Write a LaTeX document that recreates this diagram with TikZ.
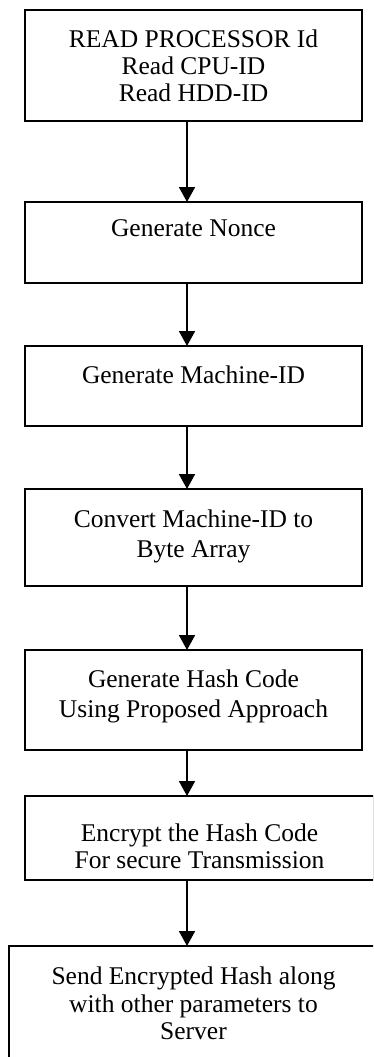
\documentclass[tikz,border=0pt]{standalone}
\usepackage{fontspec}
\setmainfont{Liberation Serif}
\usetikzlibrary{arrows.meta}
\newcommand{\firstline}{\rule{0pt}{18pt}}
\tikzset{
  stepbox/.style={draw, line width=1.6pt, rectangle, inner sep=0pt, outer sep=0pt},
  steptext/.style={anchor=north, inner sep=0pt, align=center,
    font=\fontsize{25.5}{27}\selectfont},
  flow/.style={line width=1.8pt, -{Triangle[length=15pt,width=16pt]}}
}
\begin{document}
\begin{tikzpicture}[x=1pt,y=-1pt]
\useasboundingbox (0,0) rectangle (373,1057);
\clip (0,0) rectangle (373,1057);

% process boxes
\node[stepbox, minimum width=337pt, minimum height=111pt] (b1) at (193.5,65.5) {};
\node[stepbox, minimum width=337pt, minimum height=81pt]  (b2) at (193.5,242.5) {};
\node[stepbox, minimum width=337pt, minimum height=80pt]  (b3) at (193.5,386) {};
\node[stepbox, minimum width=337pt, minimum height=97pt]  (b4) at (193.5,537.5) {};
\node[stepbox, minimum width=337pt, minimum height=100pt] (b5) at (193.5,700) {};
\node[stepbox, minimum width=349pt, minimum height=84pt]  (b6) at (199.5,838) {};
\node[stepbox, minimum width=369pt, minimum height=129pt] (b7) at (193.5,1010.5) {};

% box labels (north anchor sits 18pt above the first baseline)
\node[steptext] (t1) at (193.5,29.5) {\firstline READ PROCESSOR Id\\Read CPU-ID\\Read HDD-ID};
\node[steptext] (t2) at (193.5,218.5) {\firstline Generate Nonce};
\node[steptext] (t3) at (193.5,365) {\firstline Generate Machine-ID};
\node[steptext] (t4) at (193.5,509.5) {\firstline Convert Machine-ID to\\[2.5pt]Byte Array};
\node[steptext] (t5) at (193.5,669) {\firstline Generate Hash Code\\[3.5pt]Using Proposed Approach};
\node[steptext] (t6) at (199.5,823) {\firstline Encrypt the Hash Code\\For secure Transmission};
\node[steptext] (t7) at (193.5,966) {\firstline Send Encrypted Hash along\\[0.8pt]with other parameters to\\Server};

% connectors run down a common axis
\coordinate (ax) at (187,0);
\draw[flow] (b1.south -| ax) -- (b2.north -| ax);
\draw[flow] (b2.south -| ax) -- (b3.north -| ax);
\draw[flow] (b3.south -| ax) -- (b4.north -| ax);
\draw[flow] (b4.south -| ax) -- (b5.north -| ax);
\draw[flow] (b5.south -| ax) -- (b6.north -| ax);
\draw[flow] (b6.south -| ax) -- (b7.north -| ax);
\end{tikzpicture}
\end{document}
